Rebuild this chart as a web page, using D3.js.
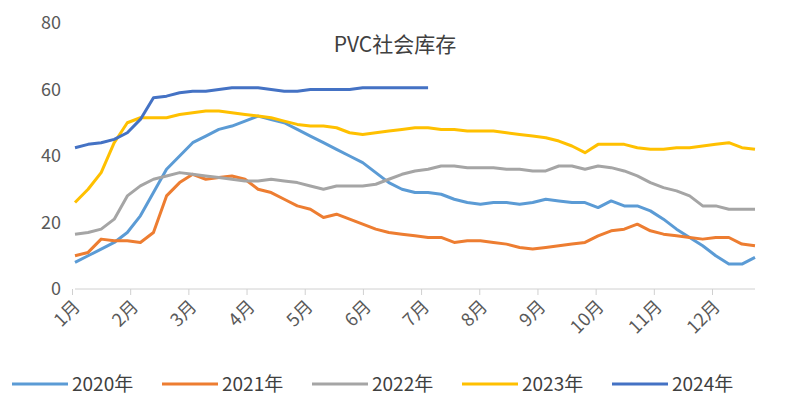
<!DOCTYPE html>
<html><head><meta charset="utf-8">
<script src="https://cdn.jsdelivr.net/npm/d3@7"></script>
<style>body{margin:0;background:#fff}text{font-family:"Noto Sans CJK SC","DejaVu Sans",sans-serif}</style>
</head><body><svg id="c" width="795" height="404"></svg>
<script>
const years = ["2020年","2021年","2022年","2023年","2024年"];
const colors = ["#5B9BD5","#ED7D31","#A5A5A5","#FFC000","#4472C4"];
const months = ["1月","2月","3月","4月","5月","6月","7月","8月","9月","10月","11月","12月"];
const yTicks = [0,20,40,60,80];
const s2020 = [8,10,12,14,17,22,29,36,40,44,46,48,49,50.5,52,51,50,48,46,44,42,40,38,35,32,30,29,29,28.5,27,26,25.5,26,26,25.5,26,27,26.5,26,26,24.5,26.5,25,25,23.5,21,18,15.5,13,10,7.5,7.5,9.5];
const s2021 = [10,11,15,14.5,14.5,14,17,28,32,34.5,33,33.5,34,33,30,29,27,25,24,21.5,22.5,21,19.5,18,17,16.5,16,15.5,15.5,14,14.5,14.5,14,13.5,12.5,12,12.5,13,13.5,14,16,17.5,18,19.5,17.5,16.5,16,15.5,15,15.5,15.5,13.5,13];
const s2022 = [16.5,17,18,21,28,31,33,34,35,34.5,34,33.5,33,32.5,32.5,33,32.5,32,31,30,31,31,31,31.5,33,34.5,35.5,36,37,37,36.5,36.5,36.5,36,36,35.5,35.5,37,37,36,37,36.5,35.5,34,32,30.5,29.5,28,25,25,24,24,24];
const s2023 = [26,30,35,44,50,51.5,51.5,51.5,52.5,53,53.5,53.5,53,52.5,52,51.5,50.5,49.5,49,49,48.5,47,46.5,47,47.5,48,48.5,48.5,48,48,47.5,47.5,47.5,47,46.5,46,45.5,44.5,43,41,43.5,43.5,43.5,42.5,42,42,42.5,42.5,43,43.5,44,42.5,42];
const s2024 = [42.5,43.5,44,45,47,51,57.5,58,59,59.5,59.5,60,60.5,60.5,60.5,60,59.5,59.5,60,60,60,60,60.5,60.5,60.5,60.5,60.5,60.5];
const series = [s2020,s2021,s2022,s2023,s2024];

const svg = d3.select("#c");
const x = d3.scaleLinear().domain([0,52]).range([75,755]);
const xm = d3.scaleLinear().domain([0,11]).range([72,712]);
const y = d3.scaleLinear().domain([0,80]).range([289,23]);

svg.append("g").attr("transform","translate(75,0)")
  .call(d3.axisLeft(y).tickValues(yTicks).tickSize(0).tickPadding(14))
  .call(g=>g.select(".domain").remove())
  .selectAll("text").attr("font-size",18).attr("fill","#595959");

const ax = svg.append("g").attr("transform","translate(0,289)")
  .call(d3.axisBottom(xm).tickValues(d3.range(12)).tickFormat(i=>months[i]).tickSize(6));
ax.select(".domain").attr("stroke","#d0d0d0").attr("d","M75,0H755");
ax.selectAll("line").attr("stroke","#d0d0d0");
ax.selectAll("text").attr("font-size",18).attr("fill","#595959")
  .attr("text-anchor","end").attr("dx","0").attr("dy","0.35em")
  .attr("transform","translate(-2,8) rotate(-45)");

const line = d3.line().x((d,i)=>x(i)).y(d=>y(d));
series.forEach((s,k)=>{
  svg.append("path").datum(s).attr("d",line).attr("fill","none")
    .attr("stroke",colors[k]).attr("stroke-width",3).attr("stroke-linejoin","round");
});

svg.append("text").attr("x",395).attr("y",52).attr("text-anchor","middle")
  .attr("font-size",21).attr("fill","#404040").text("PVC社会库存");

const lg = svg.append("g");
years.forEach((t,k)=>{
  const x0 = 12 + k*150;
  lg.append("line").attr("x1",x0).attr("x2",x0+56).attr("y1",384).attr("y2",384)
    .attr("stroke",colors[k]).attr("stroke-width",3);
  lg.append("text").attr("x",x0+60).attr("y",391).attr("font-size",19).attr("fill","#404040").text(t);
});
</script></body></html>
